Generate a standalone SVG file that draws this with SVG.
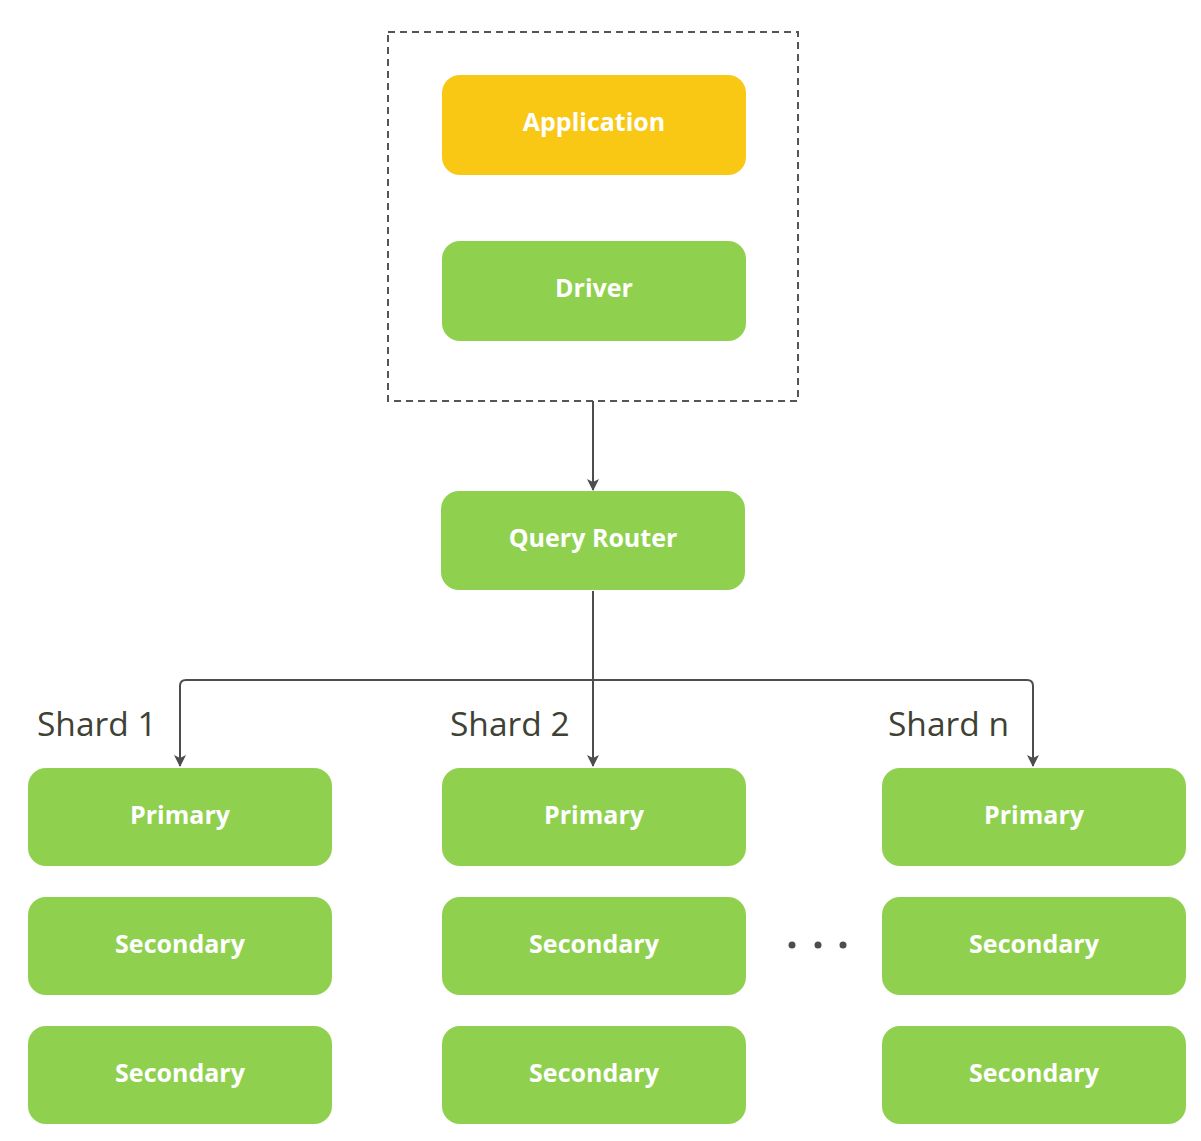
<svg xmlns="http://www.w3.org/2000/svg" width="1201" height="1141" viewBox="0 0 1201 1141">
<defs>
<style>
.box{fill:#8fd14f}
.app{fill:#f9c815}
.lbl{font-family:"Open Sans","Liberation Sans",sans-serif;font-weight:bold;font-size:25px;fill:#ffffff;text-anchor:middle}
.shard{font-family:"Open Sans","Liberation Sans",sans-serif;font-size:33.5px;fill:#3e4134}
.conn{fill:none;stroke:#4d4d4d;stroke-width:2}
</style>
<marker id="ah" viewBox="0 0 12 12" refX="11" refY="6" markerWidth="12" markerHeight="12" orient="auto" markerUnits="userSpaceOnUse">
<path d="M0,0 L12,6 L0,12 L3,6 z" fill="#4d4d4d"/>
</marker>
</defs>
<rect width="1201" height="1141" fill="#ffffff"/>
<rect id="client-group" x="388" y="32" width="410" height="369" fill="none" stroke="#555555" stroke-width="2" stroke-dasharray="7 5"/>
<g id="connectors">
<path class="conn" d="M593,401 L593,490" marker-end="url(#ah)"/>
<path class="conn" d="M593,591 L593,680"/>
<path class="conn" d="M593,680 L186,680 Q180,680 180,686 L180,766" marker-end="url(#ah)"/>
<path class="conn" d="M593,680 L593,766" marker-end="url(#ah)"/>
<path class="conn" d="M593,680 L1027,680 Q1033,680 1033,686 L1033,766" marker-end="url(#ah)"/>
</g>
<g id="application"><rect class="app" x="442" y="75" width="304" height="100" rx="18"/><text class="lbl" x="594" y="131">Application</text></g>
<g id="driver"><rect class="box" x="442" y="241" width="304" height="100" rx="18"/><text class="lbl" x="594" y="297">Driver</text></g>
<g id="query-router"><rect class="box" x="441" y="491" width="304" height="99" rx="18"/><text class="lbl" x="593" y="547">Query Router</text></g>
<g id="shard1-label"><text class="shard" x="37" y="736">Shard 1</text></g>
<g id="shard2-label"><text class="shard" x="450" y="736">Shard 2</text></g>
<g id="shardn-label"><text class="shard" x="888" y="736">Shard n</text></g>
<g id="s1-primary"><rect class="box" x="28" y="768" width="304" height="98" rx="18"/><text class="lbl" x="180" y="824">Primary</text></g>
<g id="s1-secondary1"><rect class="box" x="28" y="897" width="304" height="98" rx="18"/><text class="lbl" x="180" y="953">Secondary</text></g>
<g id="s1-secondary2"><rect class="box" x="28" y="1026" width="304" height="98" rx="18"/><text class="lbl" x="180" y="1082">Secondary</text></g>
<g id="s2-primary"><rect class="box" x="442" y="768" width="304" height="98" rx="18"/><text class="lbl" x="594" y="824">Primary</text></g>
<g id="s2-secondary1"><rect class="box" x="442" y="897" width="304" height="98" rx="18"/><text class="lbl" x="594" y="953">Secondary</text></g>
<g id="s2-secondary2"><rect class="box" x="442" y="1026" width="304" height="98" rx="18"/><text class="lbl" x="594" y="1082">Secondary</text></g>
<g id="sn-primary"><rect class="box" x="882" y="768" width="304" height="98" rx="18"/><text class="lbl" x="1034" y="824">Primary</text></g>
<g id="sn-secondary1"><rect class="box" x="882" y="897" width="304" height="98" rx="18"/><text class="lbl" x="1034" y="953">Secondary</text></g>
<g id="sn-secondary2"><rect class="box" x="882" y="1026" width="304" height="98" rx="18"/><text class="lbl" x="1034" y="1082">Secondary</text></g>
<g id="ellipsis" fill="#4d4d4d"><circle cx="792" cy="945" r="3.5"/><circle cx="818" cy="945" r="3.5"/><circle cx="843" cy="945" r="3.5"/></g>
</svg>
